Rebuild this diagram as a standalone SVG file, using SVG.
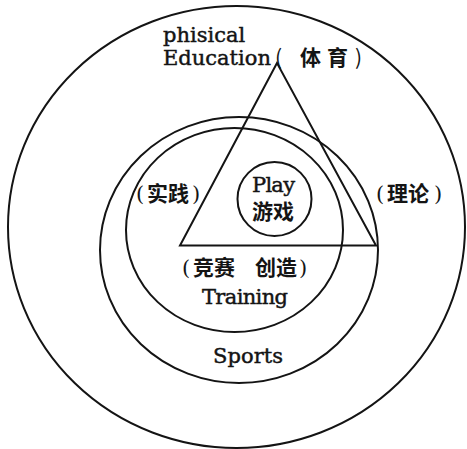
<svg xmlns="http://www.w3.org/2000/svg" width="467" height="449" viewBox="0 0 467 449">
<style>
.ln{fill:none;stroke:#141414;stroke-width:2}
.lat{font-family:"DejaVu Serif","Liberation Serif",serif;font-size:21px;fill:#141414;stroke:#141414;stroke-width:0.45}
.cjk{font-family:"Noto Sans CJK SC",sans-serif;font-size:21px;font-weight:700;fill:#141414}
.par{font-family:"DejaVu Serif","Liberation Serif",serif;font-size:21px;fill:#141414}
.fp{font-family:"Noto Sans CJK SC",sans-serif;font-size:21px;font-weight:400;fill:#141414}
</style>
<rect width="467" height="449" fill="#ffffff"/>
<g id="physical-education">
<ellipse class="ln" cx="236.5" cy="227" rx="228.5" ry="221"/>
<text class="lat" x="163" y="42">phisical</text>
<text class="lat" x="163" y="65">Education</text>
<text y="65"><tspan class="fp" x="275">(</tspan><tspan class="cjk" x="300">体</tspan><tspan class="cjk" x="327">育</tspan><tspan class="fp" x="355">)</tspan></text>
</g>
<g id="sports">
<ellipse class="ln" cx="239" cy="250" rx="139" ry="133"/>
<text class="lat" x="213" y="363" textLength="70">Sports</text>
</g>
<g id="training">
<ellipse class="ln" cx="234.5" cy="230" rx="108.5" ry="102"/>
<text class="lat" x="202" y="304" font-size="22" textLength="86">Training</text>
</g>
<g id="triangle">
<polygon class="ln" points="277,63 180,245.5 376,245.5" stroke-linejoin="miter"/>
</g>
<g id="play">
<circle class="ln" cx="274.5" cy="199" r="37"/>
<text class="lat" x="252" y="192" textLength="43">Play</text>
<text class="cjk" x="252" y="219" font-size="22">游戏</text>
</g>
<g id="practice">
<text y="201"><tspan class="par" x="136">(</tspan><tspan class="cjk" x="147">实践</tspan><tspan class="par" x="192">)</tspan></text>
</g>
<g id="theory">
<text y="201"><tspan class="par" x="376">(</tspan><tspan class="cjk" x="387">理论</tspan><tspan class="par" x="434">)</tspan></text>
</g>
<g id="competition-creation">
<text y="275"><tspan class="par" x="182">(</tspan><tspan class="cjk" x="193">竞赛</tspan><tspan class="cjk" x="255">创造</tspan><tspan class="par" x="299">)</tspan></text>
</g>
</svg>
